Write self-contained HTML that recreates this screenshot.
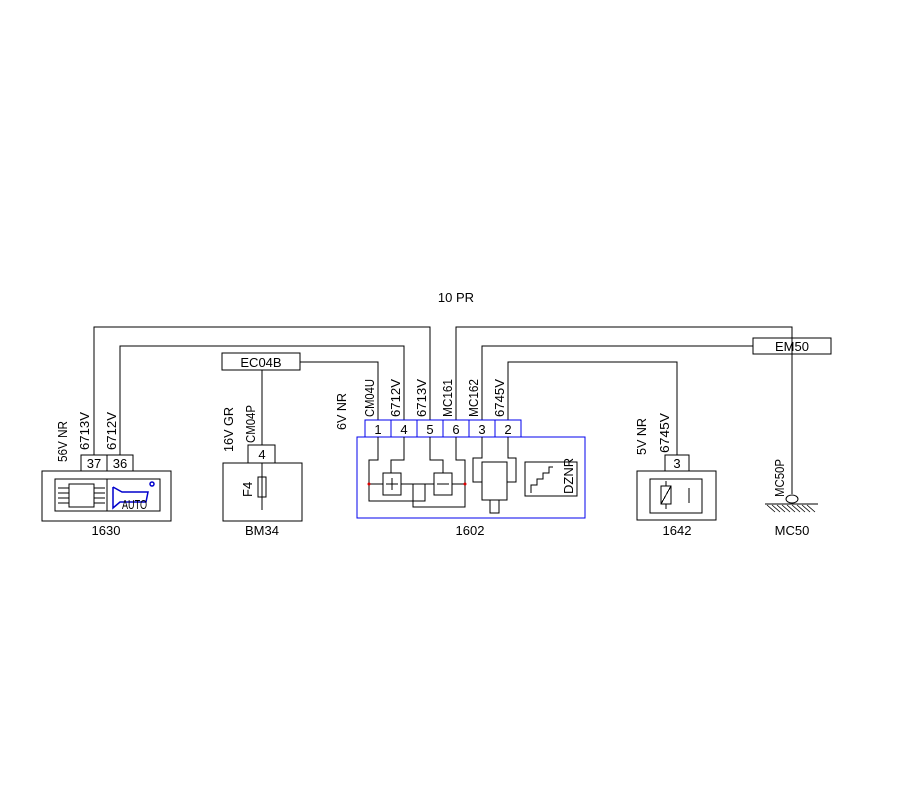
<!DOCTYPE html>
<html><head><meta charset="utf-8"><style>
html,body{margin:0;padding:0;background:#fff;}
svg{display:block;}
text{font-family:"Liberation Sans",sans-serif;font-size:13px;fill:#000;}
</style></head><body>
<svg width="900" height="800" viewBox="0 0 900 800" xmlns="http://www.w3.org/2000/svg">
<g stroke="#000" stroke-width="1" fill="none" shape-rendering="crispEdges">
<polyline points="94,455 94,327 430,327 430,420"/>
<polyline points="456,420 456,327 792,327 792,494"/>
<polyline points="120,455 120,346 404,346 404,420"/>
<polyline points="482,420 482,346 753,346"/>
<rect x="753" y="338" width="78" height="16"/>
<rect x="222" y="353" width="78" height="17"/>
<polyline points="300,362 378,362 378,420"/>
<polyline points="262,370 262,445"/>
<polyline points="508,420 508,362 677,362 677,455"/>
<rect x="81" y="455" width="26" height="16"/>
<rect x="107" y="455" width="26" height="16"/>
<rect x="42" y="471" width="129" height="50"/>
<rect x="55" y="479" width="105" height="32"/>
<line x1="107" y1="479" x2="107" y2="511"/>
<rect x="69" y="484" width="25" height="23"/>
<line x1="58" y1="488" x2="69" y2="488"/><line x1="58" y1="493" x2="69" y2="493"/><line x1="58" y1="498" x2="69" y2="498"/><line x1="58" y1="503" x2="69" y2="503"/>
<line x1="94" y1="488" x2="105" y2="488"/><line x1="94" y1="493" x2="105" y2="493"/><line x1="94" y1="498" x2="105" y2="498"/><line x1="94" y1="503" x2="105" y2="503"/>
<rect x="248" y="445" width="27" height="18"/>
<rect x="223" y="463" width="79" height="58"/>
<line x1="262" y1="463" x2="262" y2="510"/>
<rect x="258" y="477" width="8" height="20"/>
<g stroke="#0000ee">
<rect x="357" y="437" width="228" height="81"/>
<rect x="365" y="420" width="156" height="17"/>
<line x1="391" y1="420" x2="391" y2="437"/><line x1="417" y1="420" x2="417" y2="437"/><line x1="443" y1="420" x2="443" y2="437"/><line x1="469" y1="420" x2="469" y2="437"/><line x1="495" y1="420" x2="495" y2="437"/>
</g>
<polyline points="378,437 378,460 369,460 369,501 425,501 425,484 411,484"/>
<polyline points="404,437 404,460 391,460 391,473"/>
<rect x="383" y="473" width="18" height="22"/>
<line x1="369" y1="484" x2="383" y2="484"/>
<line x1="401" y1="484" x2="411" y2="484"/>
<line x1="392" y1="478" x2="392" y2="490"/><line x1="386" y1="484" x2="398" y2="484"/>
<polyline points="413,484 413,507 465,507 465,460 456,460 456,437"/>
<polyline points="430,437 430,460 443,460 443,473"/>
<rect x="434" y="473" width="18" height="22"/>
<line x1="425" y1="484" x2="434" y2="484"/><line x1="452" y1="484" x2="465" y2="484"/>
<line x1="437" y1="484" x2="449" y2="484"/>
<polyline points="482,437 482,458 473,458 473,482 482,482"/>
<polyline points="508,437 508,458 516,458 516,482 507,482"/>
<rect x="482" y="462" width="25" height="38"/>
<rect x="490" y="500" width="9" height="13"/>
<rect x="525" y="462" width="52" height="34"/>
<polyline points="531,493 531,485 537,485 537,479 543,479 543,473 549,473 549,467 553,467"/>
<rect x="665" y="455" width="24" height="16"/>
<rect x="637" y="471" width="79" height="49"/>
<rect x="650" y="479" width="52" height="34"/>
<rect x="661" y="486" width="10" height="18"/>
<line x1="661" y1="504" x2="671" y2="486"/>
<line x1="666" y1="481" x2="666" y2="486"/><line x1="666" y1="504" x2="666" y2="509"/>
<line x1="689" y1="488" x2="689" y2="503"/>
</g>
<g stroke="#0000cc" fill="none" stroke-width="1.5">
<polyline points="113,487 113,508 120,502 146,502 148,492 122,492 113,487"/>
<circle cx="152" cy="484" r="2"/>
</g>
<circle cx="369" cy="484" r="1.5" fill="#d00"/><circle cx="465" cy="484" r="1.5" fill="#d00"/>
<ellipse cx="792" cy="499" rx="6" ry="4" fill="#fff" stroke="#000"/>
<line x1="765" y1="504" x2="818" y2="504" stroke="#000"/>
<g stroke="#000" stroke-width="0.8">
<line x1="767" y1="505" x2="775" y2="512"/><line x1="772" y1="505" x2="780" y2="512"/><line x1="777" y1="505" x2="785" y2="512"/><line x1="782" y1="505" x2="790" y2="512"/><line x1="787" y1="505" x2="795" y2="512"/><line x1="792" y1="505" x2="800" y2="512"/><line x1="797" y1="505" x2="805" y2="512"/><line x1="802" y1="505" x2="810" y2="512"/><line x1="807" y1="505" x2="815" y2="512"/>
</g>
<text x="456" y="302" text-anchor="middle">10 PR</text>
<text x="261" y="367" text-anchor="middle">EC04B</text>
<text x="792" y="351" text-anchor="middle">EM50</text>
<text x="94" y="468" text-anchor="middle">37</text>
<text x="120" y="468" text-anchor="middle">36</text>
<text x="262" y="459" text-anchor="middle">4</text>
<text x="378" y="434" text-anchor="middle">1</text>
<text x="404" y="434" text-anchor="middle">4</text>
<text x="430" y="434" text-anchor="middle">5</text>
<text x="456" y="434" text-anchor="middle">6</text>
<text x="482" y="434" text-anchor="middle">3</text>
<text x="508" y="434" text-anchor="middle">2</text>
<text x="677" y="468" text-anchor="middle" font-size="10">3</text>
<text x="122" y="509" font-size="8" textLength="25" lengthAdjust="spacingAndGlyphs">AUTO</text>
<text x="106" y="535" text-anchor="middle">1630</text>
<text x="262" y="535" text-anchor="middle">BM34</text>
<text x="470" y="535" text-anchor="middle">1602</text>
<text x="677" y="535" text-anchor="middle">1642</text>
<text x="792" y="535" text-anchor="middle">MC50</text>
<g>
<text transform="translate(67,462) rotate(-90)" textLength="41" lengthAdjust="spacingAndGlyphs">56V NR</text>
<text transform="translate(89,450) rotate(-90)" textLength="38" lengthAdjust="spacingAndGlyphs">6713V</text>
<text transform="translate(116,450) rotate(-90)" textLength="38" lengthAdjust="spacingAndGlyphs">6712V</text>
<text transform="translate(233,452) rotate(-90)" textLength="45" lengthAdjust="spacingAndGlyphs">16V GR</text>
<text transform="translate(255,443) rotate(-90)" textLength="38" lengthAdjust="spacingAndGlyphs">CM04P</text>
<text transform="translate(346,430) rotate(-90)" textLength="37" lengthAdjust="spacingAndGlyphs">6V NR</text>
<text transform="translate(374,417) rotate(-90)" textLength="38" lengthAdjust="spacingAndGlyphs">CM04U</text>
<text transform="translate(400,417) rotate(-90)" textLength="38" lengthAdjust="spacingAndGlyphs">6712V</text>
<text transform="translate(426,417) rotate(-90)" textLength="38" lengthAdjust="spacingAndGlyphs">6713V</text>
<text transform="translate(452,417) rotate(-90)" textLength="38" lengthAdjust="spacingAndGlyphs">MC161</text>
<text transform="translate(478,417) rotate(-90)" textLength="38" lengthAdjust="spacingAndGlyphs">MC162</text>
<text transform="translate(504,417) rotate(-90)" textLength="38" lengthAdjust="spacingAndGlyphs">6745V</text>
<text transform="translate(646,455) rotate(-90)" textLength="37" lengthAdjust="spacingAndGlyphs">5V NR</text>
<text transform="translate(669,453) rotate(-90)" textLength="40" lengthAdjust="spacingAndGlyphs">6745V</text>
<text transform="translate(784,497) rotate(-90)" textLength="38" lengthAdjust="spacingAndGlyphs">MC50P</text>
<text transform="translate(252,497) rotate(-90)" font-size="12">F4</text>
<text transform="translate(573,494) rotate(-90)" font-size="9">DZNR</text>
</g>
</svg>
</body></html>
